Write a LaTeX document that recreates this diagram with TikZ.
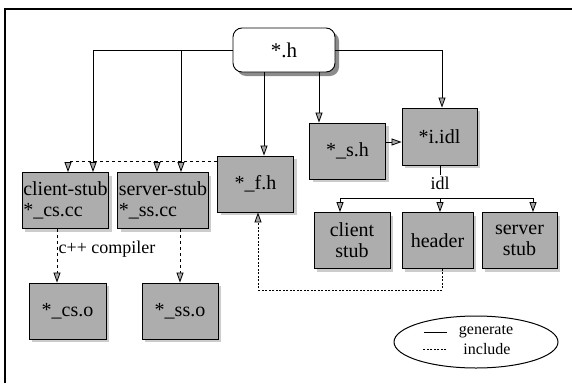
\documentclass[tikz,border=0pt]{standalone}
\usepackage{fontspec}
\setmainfont{Liberation Serif}
\usetikzlibrary{arrows.meta,positioning,shapes.geometric,shadows,calc}

\begin{document}
\begin{tikzpicture}[
  x=1pt, y=-1pt,
  srcbox/.style={draw, line width=0.9pt, fill=black!32, minimum width=76pt, minimum height=56pt, inner xsep=1pt, inner ysep=2pt, align=center, font=\fontsize{20}{21}\selectfont,
    drop shadow={shadow xshift=3pt, shadow yshift=-3pt, fill=black!20, opacity=1}},
  topfile/.style={draw, line width=0.9pt, fill=white, rounded corners=9pt, minimum width=102pt, minimum height=44pt, font=\fontsize{21}{23}\selectfont,
    drop shadow={shadow xshift=4pt, shadow yshift=-4pt, fill=black!45, opacity=1}},
  genarrow/.style={line width=0.8pt, -{Triangle[length=10pt, width=7pt, fill=black!35]}},
  incarrow/.style={genarrow, dash pattern=on 3.5pt off 2.5pt},
  lbl/.style={font=\fontsize{18}{20}\selectfont, inner sep=1pt},
  keytext/.style={font=\fontsize{16}{18}\selectfont, inner sep=1pt}
]
  \useasboundingbox (0,0) rectangle (572,383);
  % outer frame
  \draw[line width=1.2pt] (5,383) -- (5,9) -- (572,9);

  % files
  \node[topfile] (hdr) at (284,50) {*.h};
  \node[srcbox, minimum width=85pt, align=left] (cs) at (65.5,200.5) {client-stub\\*\_cs.cc};
  \node[srcbox, minimum width=90pt, align=left] (ss) at (163,200.5) {server-stub\\*\_ss.cc};
  \node[srcbox] (fh) at (255.5,184) {*\_f.h};
  \node[srcbox] (sh) at (347.5,151) {*\_s.h};
  \node[srcbox, minimum width=75pt, minimum height=57pt] (idl) at (439.5,136.5) {*i.idl};
  \node[srcbox] (cst) at (352,240.5) {client\\stub};
  \node[srcbox, minimum width=71pt] (hd) at (437.5,240.5) {header};
  \node[srcbox, minimum width=75pt] (sst) at (519.5,240.5) {server\\stub};
  \node[srcbox, minimum width=77pt] (cso) at (67.5,311) {*\_cs.o};
  \node[srcbox] (sso) at (180,311) {*\_ss.o};

  % generate
  \draw[genarrow] (hdr.west) -| ([xshift=27.5pt]cs.north);
  \draw[genarrow] ([xshift=18pt]ss.north |- hdr.west) -- ([xshift=18pt]ss.north);
  \draw[genarrow] ([xshift=8.5pt]fh.north |- hdr.south) -- ([xshift=8.5pt]fh.north);
  \draw[genarrow] ([xshift=-28.5pt]sh.north |- hdr.south) -- ([xshift=-28.5pt]sh.north);
  \draw[genarrow] (hdr.east) -| ([xshift=2.5pt]idl.north);
  \draw[genarrow] ([yshift=9pt]sh.east) -- ([yshift=9pt]sh.east -| idl.west);

  % idl compiler
  \node[lbl] (idlc) at (440,183) {idl};
  \draw[line width=0.8pt] (idl.south -| idlc) -- (idlc.north);
  \coordinate (bus) at (440,198);
  \draw[genarrow] (bus) -| ([xshift=-12pt]cst.north);
  \draw[genarrow] (bus) -| ([xshift=13.5pt]sst.north);
  \draw[genarrow] (bus) -- (bus |- hd.north);

  % include
  \coordinate (incbus) at ([yshift=23pt]fh.west);
  \draw[incarrow] (incbus) -| ([xshift=2.5pt]cs.north);
  \draw[incarrow] ([xshift=-6pt]ss.north |- incbus) -- ([xshift=-6pt]ss.north);
  \draw[incarrow] ([xshift=-8.5pt]cs.south) -- ([xshift=-8.5pt]cs.south |- cso.north);
  \draw[incarrow] (sso.north |- ss.south) -- (sso.north);
  \node[lbl] (cc) at (107,249) {c++ compiler};
  \draw[incarrow, dash pattern=on 2pt off 1.5pt] ([xshift=4.5pt]hd.south) -- ++(0,21) -| ([xshift=2.5pt]fh.south);

  % key
  \node[draw, ellipse, line width=1pt, minimum width=164pt, minimum height=52pt] (key) at (476,342) {};
  \node[keytext] (kgen) at (486,332) {generate};
  \node[keytext] (kinc) at (487,349) {include};
  \draw[line width=0.8pt] (kgen.west) ++(-11,0) -- ++(-23,0);
  \draw[line width=0.8pt, dash pattern=on 2pt off 1.5pt] (kinc.west) ++(-16,0) -- ++(-23,0);
\end{tikzpicture}
\end{document}
